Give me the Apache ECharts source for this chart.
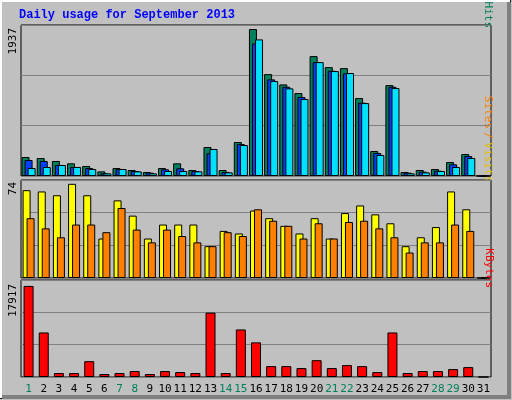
<!DOCTYPE html>
<html>
<head>
<meta charset="utf-8">
<script src="https://cdn.jsdelivr.net/npm/echarts@6/dist/echarts.min.js"></script>
<style>html,body{margin:0;padding:0;background:#c0c0c0}#main{width:512px;height:400px}</style>
</head>
<body>
<div id="main"></div>
<script>
var days = [];
for (var i = 1; i <= 31; i++) days.push(String(i));
var weekends = ['1', '7', '8', '14', '15', '21', '22', '28', '29'];

var hits = [250, 237, 198, 167, 132, 61, 105, 79, 53, 105, 167, 79, 382, 79, 448, 1937, 1343, 1207, 1093, 1580, 1435, 1422, 1027, 329, 1198, 53, 79, 92, 184, 290, 0];
var files = [211, 198, 145, 119, 105, 35, 92, 66, 44, 88, 101, 66, 299, 53, 421, 1747, 1273, 1176, 1040, 1501, 1387, 1352, 966, 303, 1176, 44, 57, 70, 154, 263, 0];
var pages = [105, 119, 145, 119, 92, 35, 92, 61, 35, 66, 66, 61, 356, 48, 408, 1800, 1251, 1155, 1014, 1501, 1383, 1357, 961, 277, 1159, 35, 48, 66, 119, 237, 0];
var visits = [69, 68, 65, 74, 65, 31, 61, 49, 31, 42, 42, 42, 25, 37, 35, 53, 47, 41, 35, 47, 31, 51, 57, 50, 43, 25, 32, 40, 68, 54, 0];
var sites = [47, 39, 32, 42, 42, 36, 55, 38, 28, 38, 33, 28, 25, 36, 33, 54, 45, 41, 31, 43, 31, 44, 45, 39, 32, 20, 28, 28, 42, 37, 0];
var kbytes = [17917, 8760, 779, 779, 3115, 584, 779, 1168, 584, 1168, 974, 779, 12660, 779, 9350, 6815, 2142, 2142, 1752, 3310, 1752, 2336, 2142, 974, 8760, 779, 1168, 1168, 1558, 1947, 0];

var font = 'DejaVu Sans Mono';

function xAxis(idx, showLabels) {
    return {
        type: 'category', gridIndex: idx, data: days,
        axisLine: {show: false}, axisTick: {show: false},
        axisLabel: {
            show: showLabels, interval: 0, fontFamily: font, fontSize: 11, margin: 7,
            formatter: function (v) { return weekends.indexOf(v) >= 0 ? '{w|' + v + '}' : '{n|' + v + '}'; },
            rich: {w: {color: '#00805c', fontFamily: font, fontSize: 11}, n: {color: '#000', fontFamily: font, fontSize: 11}}
        }
    };
}
function yAxis(idx, max) {
    return {
        type: 'value', gridIndex: idx, min: 0, max: max, interval: max / 3,
        axisLabel: {show: false}, axisLine: {show: false}, axisTick: {show: false},
        splitLine: {lineStyle: {color: '#808080', width: 1}}
    };
}
function bar(name, color, data, xi, width, gap) {
    return {
        name: name, type: 'bar', xAxisIndex: xi, yAxisIndex: xi, data: data,
        barWidth: width, barGap: gap,
        itemStyle: {color: color, borderColor: '#000', borderWidth: 1},
        animation: false
    };
}
function vtext(x, y, txt, color) {
    return {type: 'text', x: x, y: y, rotation: Math.PI / 2,
        style: {text: txt, fill: color, font: '11px ' + font, textAlign: 'right', textVerticalAlign: 'top'}};
}

var option = {
    backgroundColor: '#c0c0c0',
    animation: false,
    grid: [
        {left: 21, width: 470, top: 25, height: 151, show: true, borderColor: '#000', borderWidth: 1, backgroundColor: '#c0c0c0'},
        {left: 21, width: 470, top: 180, height: 98, show: true, borderColor: '#000', borderWidth: 1, backgroundColor: '#c0c0c0'},
        {left: 21, width: 470, top: 280, height: 97, show: true, borderColor: '#000', borderWidth: 1, backgroundColor: '#c0c0c0'}
    ],
    xAxis: [xAxis(0, false), xAxis(1, false), xAxis(2, true)],
    yAxis: [yAxis(0, 1990), yAxis(1, 77), yAxis(2, 19080)],
    series: [
        bar('Hits', '#00805c', hits, 0, 8, '-62%'),
        bar('Files', '#0040ff', files, 0, 8, '-62%'),
        bar('Pages', '#00e0ff', pages, 0, 8, '-62%'),
        bar('Visits', '#ffff00', visits, 1, 8, '-50%'),
        bar('Sites', '#ff8000', sites, 1, 8, '-50%'),
        bar('KBytes', '#ff0000', kbytes, 2, 10, '0%')
    ],
    graphic: [
        {type: 'rect', shape: {x: 0.5, y: 0.5, width: 510, height: 398}, style: {fill: null, stroke: '#000', lineWidth: 1}, z: -1},
        {type: 'polyline', shape: {points: [[1, 398], [1, 1], [510, 1]]}, style: {stroke: '#fff', lineWidth: 2, fill: null}},
        {type: 'polyline', shape: {points: [[509, 2], [509, 397], [2, 397]]}, style: {stroke: '#808080', lineWidth: 4, fill: null}},
        {type: 'text', x: 19, y: 9, style: {text: 'Daily usage for September 2013', fill: '#0000ff', font: 'bold 12px Liberation Mono'}},
        vtext(8, 28, '1937', '#000'),
        vtext(8, 182, '74', '#000'),
        vtext(8, 284, '17917', '#000'),
        {type: 'text', x: 494, y: 28, rotation: -Math.PI / 2,
            style: {rich: {p: {fill: '#00e0ff', font: '11px ' + font}, f: {fill: '#0040ff', font: '11px ' + font}, h: {fill: '#00805c', font: '11px ' + font}},
                text: '{p|Pages} {h|/} {f|Files} {h|/} {h|Hits}', textAlign: 'right', textVerticalAlign: 'top'}},
        {type: 'text', x: 494, y: 182, rotation: -Math.PI / 2,
            style: {rich: {s: {fill: '#ff8000', font: '11px ' + font}, v: {fill: '#e0c000', font: '11px ' + font}},
                text: '{s|Sites} {s|/} {v|Visits}', textAlign: 'right', textVerticalAlign: 'top'}},
        {type: 'text', x: 494, y: 288, rotation: -Math.PI / 2,
            style: {text: 'KBytes', fill: '#ff0000', font: '11px ' + font, textAlign: 'right', textVerticalAlign: 'top'}}
    ]
};
var myChart = echarts.init(document.getElementById('main'));
myChart.setOption(option);
</script>
</body>
</html>
